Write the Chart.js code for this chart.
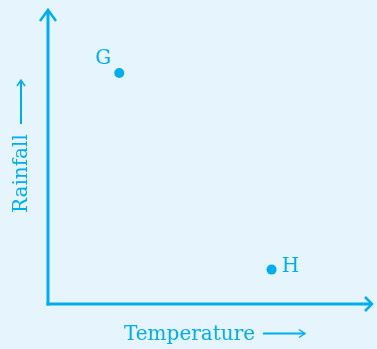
<!DOCTYPE html>
<html>
<head>
<meta charset="utf-8">
<script src="https://cdn.jsdelivr.net/npm/chart.js@4"></script>
<style>
  html, body { margin: 0; padding: 0; background: #e6f5fd; }
  #wrap { width: 377px; height: 349px; position: relative; }
</style>
</head>
<body>
<div id="wrap"><canvas id="c"></canvas></div>
<script>
// Data (arbitrary units; axes have no ticks)
const pointLabels = ['G', 'H'];
const temperature = [2.2, 6.9];
const rainfall = [7.86, 1.17];
const xTitle = 'Temperature';
const yTitle = 'Rainfall';

const BLUE = '#00aeef';
const FONT = '20px "DejaVu Serif", serif';

function arrowHead(ctx, x, y, dir, len, half) {
  ctx.beginPath();
  if (dir === 'up') {
    ctx.moveTo(x - half, y + len); ctx.lineTo(x, y); ctx.lineTo(x + half, y + len);
  } else {
    ctx.moveTo(x - len, y - half); ctx.lineTo(x, y); ctx.lineTo(x - len, y + half);
  }
  ctx.stroke();
}

const decor = {
  id: 'decor',
  beforeDatasetsDraw(chart) {
    const ctx = chart.ctx;
    const xs = chart.scales.x, ys = chart.scales.y;
    const x0 = xs.getPixelForValue(0), y0 = ys.getPixelForValue(0);
    const xEnd = xs.getPixelForValue(xs.max), yEnd = ys.getPixelForValue(ys.max);
    ctx.save();
    ctx.strokeStyle = BLUE; ctx.lineCap = 'butt'; ctx.lineJoin = 'miter';
    ctx.lineWidth = 3;
    ctx.beginPath(); ctx.moveTo(x0, y0 + 1.5); ctx.lineTo(x0, yEnd + 1); ctx.stroke();
    ctx.beginPath(); ctx.moveTo(x0 - 1.5, y0); ctx.lineTo(xEnd - 1, y0); ctx.stroke();
    ctx.lineWidth = 2.5;
    arrowHead(ctx, x0, yEnd, 'up', 11, 8);
    arrowHead(ctx, xEnd, y0, 'right', 7, 7);

    ctx.fillStyle = BLUE; ctx.font = FONT;
    ctx.textBaseline = 'alphabetic'; ctx.textAlign = 'left';
    ctx.fillText(xTitle, 124, 340);
    ctx.lineWidth = 2;
    ctx.beginPath(); ctx.moveTo(263, 333.5); ctx.lineTo(304, 333.5); ctx.stroke();
    ctx.lineWidth = 1.5;
    arrowHead(ctx, 305, 333.5, 'right', 6, 4);

    ctx.save();
    ctx.translate(27, 213); ctx.rotate(-Math.PI / 2);
    ctx.fillText(yTitle, 0, 0);
    ctx.restore();
    ctx.lineWidth = 2;
    ctx.beginPath(); ctx.moveTo(21, 124); ctx.lineTo(21, 81); ctx.stroke();
    ctx.lineWidth = 1.5;
    arrowHead(ctx, 21, 80, 'up', 6, 4);
    ctx.restore();
  },
  afterDatasetsDraw(chart) {
    const ctx = chart.ctx;
    const meta = chart.getDatasetMeta(0);
    ctx.save();
    ctx.fillStyle = BLUE; ctx.font = FONT;
    ctx.textAlign = 'center'; ctx.textBaseline = 'middle';
    meta.data.forEach((pt, i) => {
      const lbl = pointLabels[i];
      if (i === 0) ctx.fillText(lbl, pt.x - 16, pt.y - 14);
      else ctx.fillText(lbl, pt.x + 19, pt.y - 3);
    });
    ctx.restore();
  }
};

new Chart(document.getElementById('c'), {
  type: 'scatter',
  data: {
    datasets: [{
      data: temperature.map((t, i) => ({ x: t, y: rainfall[i] })),
      backgroundColor: BLUE,
      borderColor: BLUE,
      pointRadius: 5,
      pointBorderWidth: 0
    }]
  },
  options: {
    responsive: true,
    maintainAspectRatio: false,
    animation: false,
    layout: { padding: { left: 48, right: 1, top: 10, bottom: 45 } },
    plugins: { legend: { display: false }, tooltip: { enabled: false } },
    scales: {
      x: { type: 'linear', min: 0, max: 10, display: false },
      y: { type: 'linear', min: 0, max: 10, display: false }
    }
  },
  plugins: [decor]
});
</script>
</body>
</html>
